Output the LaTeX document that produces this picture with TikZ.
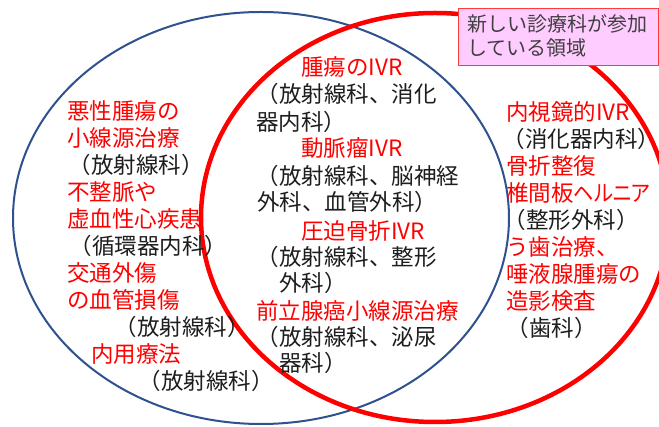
\documentclass[tikz,border=0pt]{standalone}
\usepackage{fontspec}
\usepackage{graphicx}
\newfontfamily\jp{Noto Sans CJK JP}
\newcommand\prop[1]{\scalebox{0.9}[1]{\addfontfeature{RawFeature=+palt}#1}}
\definecolor{vblue}{RGB}{47,82,143}
\definecolor{vred}{RGB}{255,0,0}
\definecolor{boxpink}{RGB}{255,204,255}
\definecolor{boxline}{RGB}{255,60,60}
\definecolor{boxtext}{RGB}{64,64,64}
\definecolor{deptxt}{RGB}{30,30,30}
\newcommand\LP{\makebox[0.5em][r]{（}}
\newcommand\RP{\makebox[0.5em][l]{）}}
\tikzset{
  base txt/.style={anchor=base west, inner sep=0pt, outer sep=0pt, font=\jp\fontsize{22.5}{27}\selectfont},
  red txt/.style={base txt, text=vred},
  dep txt/.style={base txt, text=deptxt},
  note txt/.style={anchor=base west, inner sep=0pt, text=boxtext, font=\jp\fontsize{20}{24}\selectfont},
  notebox/.style={draw=boxline, line width=1pt, fill=boxpink, inner sep=0pt, minimum width=200pt, minimum height=57pt, anchor=north west},
}
\begin{document}
\begin{tikzpicture}[x=1pt,y=-1pt]
\useasboundingbox (0,0) rectangle (659,427);
\clip (0,0) rectangle (659,427);
\fill[white] (0,0) rectangle (659,427);
% circles
\draw[vblue, line width=2pt] (261,218) ellipse [x radius=248pt, y radius=206pt];
\draw[vred, line width=4.5pt] (435,217.5) ellipse [x radius=234pt, y radius=204.5pt];
% note box
\node[notebox] (note) at (458,8) {};
\node[note txt] (note1) at (467,31.6) {新しい診療科が参加};
\node[note txt] (note2) at (467,55.6) {している領域};
% left column
\node[red txt] (l1) at (67,119.5) {悪性腫瘍の};
\node[red txt] (l2) at (67,146.5) {小線源治療};
\node[dep txt] (l3) at (80,173.5) {\LP 放射線科\RP};
\node[red txt] (l4) at (67,200.5) {不整脈や};
\node[red txt] (l5) at (67,227.5) {虚血性心疾患};
\node[dep txt] (l6) at (81,254.5) {\LP 循環器内科\RP};
\node[red txt] (l7) at (67,281.5) {交通外傷};
\node[red txt] (l8) at (67,308.5) {の血管損傷};
\node[dep txt] (l9) at (126,335.5) {\LP 放射線科\RP};
\node[red txt] (l10) at (91,362.5) {内用療法};
\node[dep txt] (l11) at (150,389.5) {\LP 放射線科\RP};
% middle column
\node[red txt] (m1) at (301,76) {腫瘍のIVR};
\node[dep txt] (m2) at (268,102.5) {\LP 放射線科、消化};
\node[dep txt] (m3) at (256,130.2) {器内科\RP};
\node[red txt] (m4) at (301,156.5) {動脈瘤IVR};
\node[dep txt] (m5) at (268,184.5) {\LP 放射線科、脳神経};
\node[dep txt] (m6) at (257,210.5) {外科、血管外科\RP};
\node[red txt] (m7) at (301,239.5) {圧迫骨折IVR};
\node[dep txt] (m8) at (268,266) {\LP 放射線科、整形};
\node[dep txt] (m9) at (279,291.5) {外科\RP};
\node[red txt] (m10) at (256,319.5) {前立腺癌小線源治療};
\node[dep txt] (m11) at (268,346) {\LP 放射線科、泌尿};
\node[dep txt] (m12) at (279,371.5) {器科\RP};
% right column
\node[red txt] (r1) at (506,121) {内視鏡的IVR};
\node[dep txt] (r2) at (514,148) {\LP 消化器内科\RP};
\node[red txt] (r3) at (506,175) {骨折整復};
\node[red txt] (r4) at (506,202) {椎間板\prop{ヘルニア}};
\node[dep txt] (r5) at (515,229) {\LP 整形外科\RP};
\node[red txt] (r6) at (506,256) {う歯治療、};
\node[red txt] (r7) at (506,283) {唾液腺腫瘍の};
\node[red txt] (r8) at (506,310) {造影検査};
\node[dep txt] (r9) at (518,337) {\LP 歯科\RP};
\end{tikzpicture}
\end{document}
